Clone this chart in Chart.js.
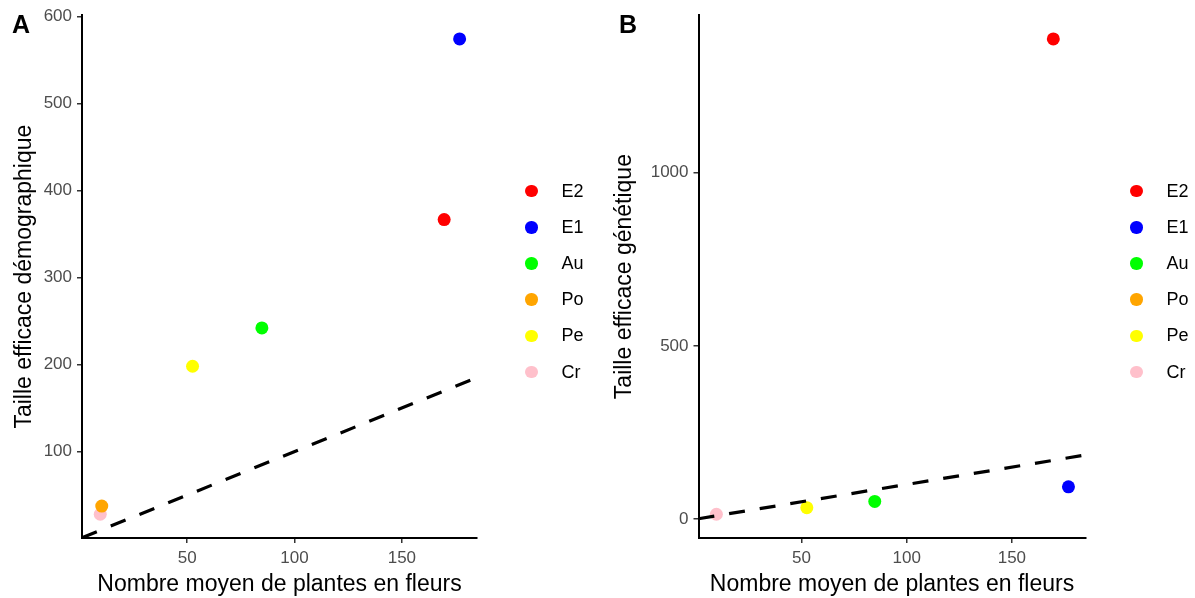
<!DOCTYPE html>
<html lang="fr">
<head>
  <meta charset="UTF-8" />
  <title>Taille efficace vs nombre moyen de plantes en fleurs</title>
  <script src="https://cdn.jsdelivr.net/npm/chart.js"></script>
  <style>
    body {
      margin: 0;
      background: #fff;
      font-family: "Liberation Sans", Arial, sans-serif;
    }
    .panel {
      position: absolute;
      top: 0;
      height: 598px;
    }
    #panelA { left: 0; width: 600px; }
    #panelB { left: 600px; width: 595px; }
    .tag {
      position: absolute;
      top: 10px;
      font-size: 25px;
      font-weight: bold;
      color: #000;
    }
    .legend {
      position: absolute;
      top: 173px;
    }
    .legend-item {
      display: flex;
      align-items: center;
      height: 36.2px;
      font-size: 18px;
      color: #000;
    }
    .dot {
      width: 12.5px;
      height: 12.5px;
      border-radius: 50%;
      margin-right: 24px;
    }
  </style>
</head>
<body>
  <div class="panel" id="panelA">
    <canvas id="chartA" width="600" height="598"></canvas>
    <div class="tag" style="left:12px">A</div>
    <div class="legend" id="legendA" style="left:525px"></div>
  </div>
  <div class="panel" id="panelB">
    <canvas id="chartB" width="595" height="598"></canvas>
    <div class="tag" style="left:19px">B</div>
    <div class="legend" id="legendB" style="left:530px"></div>
  </div>

  <script>
    // populations, in legend order
    const sites = ['E2', 'E1', 'Au', 'Po', 'Pe', 'Cr'];
    const siteColors = ['#FF0000', '#0000FF', '#00FF00', '#FFA500', '#FFFF00', '#FFC0CB'];

    // values
    const floweringPlants = [169.7, 176.9, 84.8, 10.2, 52.5, 9.5];
    const demographicNe = [366.5, 574, 242, 37.4, 198, 28];
    const geneticNe = [1386, 93, 51, null, 33, 14];

    const xTicks = [50, 100, 150];
    const demoTicks = [100, 200, 300, 400, 500, 600];
    const genTicks = [0, 500, 1000];

    const X_MIN = 1, X_MAX = 185;

    Chart.defaults.font.family = "'Liberation Sans', Arial, sans-serif";

    function buildLegend(chart, el) {
      chart.data.datasets.filter(d => d.label).forEach(d => {
        const item = document.createElement('div');
        item.className = 'legend-item';
        const dot = document.createElement('span');
        dot.className = 'dot';
        dot.style.background = d.backgroundColor;
        item.appendChild(dot);
        item.appendChild(document.createTextNode(d.label));
        el.appendChild(item);
      });
    }

    function makePanel(canvasId, legendId, yValues, yMin, yMax, yTicks, yTitle, yAxisWidth, rightPad, topPad) {
      const datasets = sites.map((s, i) => ({
        label: s,
        data: yValues[i] == null ? [] : [{ x: floweringPlants[i], y: yValues[i] }],
        backgroundColor: siteColors[i],
        borderWidth: 0,
        pointRadius: 6.5,
        pointHoverRadius: 6.5,
        order: 1
      }));
      // 1:1 reference line
      datasets.push({
        label: '',
        type: 'line',
        data: [{ x: X_MIN, y: X_MIN }, { x: X_MAX, y: X_MAX }],
        borderColor: '#000',
        borderWidth: 3.2,
        borderDash: [16, 15],
        pointRadius: 0,
        fill: false,
        order: 0
      });

      const axisGrid = { drawOnChartArea: false, drawTicks: true, tickLength: 5, color: '#333', lineWidth: 1.5 };
      const axisBorder = { display: true, color: '#000', width: 2 };
      const plain = v => String(v);

      const chart = new Chart(document.getElementById(canvasId), {
        type: 'scatter',
        data: { datasets },
        options: {
          responsive: false,
          animation: false,
          layout: { padding: { left: 0, right: rightPad, top: topPad, bottom: 0 } },
          plugins: { legend: { display: false }, tooltip: { enabled: false } },
          scales: {
            x: {
              type: 'linear',
              min: X_MIN,
              max: X_MAX,
              afterBuildTicks: s => { s.ticks = xTicks.map(v => ({ value: v })); },
              afterFit: s => { s.height = 60; },
              grid: axisGrid,
              border: axisBorder,
              ticks: { color: '#4D4D4D', font: { size: 17 }, padding: 5, callback: plain },
              title: {
                display: true,
                text: 'Nombre moyen de plantes en fleurs',
                color: '#000',
                font: { size: 23 },
                padding: 0
              }
            },
            y: {
              type: 'linear',
              min: yMin,
              max: yMax,
              afterBuildTicks: s => { s.ticks = yTicks.map(v => ({ value: v })); },
              afterFit: s => { s.width = yAxisWidth; },
              grid: axisGrid,
              border: axisBorder,
              ticks: { color: '#4D4D4D', font: { size: 17 }, padding: 5, callback: plain },
              title: {
                display: true,
                text: yTitle,
                color: '#000',
                font: { size: 23 },
                padding: { top: 11, bottom: 0 }
              }
            }
          }
        }
      });
      buildLegend(chart, document.getElementById(legendId));
      return chart;
    }

    makePanel('chartA', 'legendA', demographicNe, 0.7, 601.3, demoTicks,
      'Taille efficace démographique', 82, 123, 13);
    makePanel('chartB', 'legendB', geneticNe, -54.6, 1454.6, genTicks,
      'Taille efficace génétique', 98.5, 109.5, 13.4);
  </script>
</body>
</html>
